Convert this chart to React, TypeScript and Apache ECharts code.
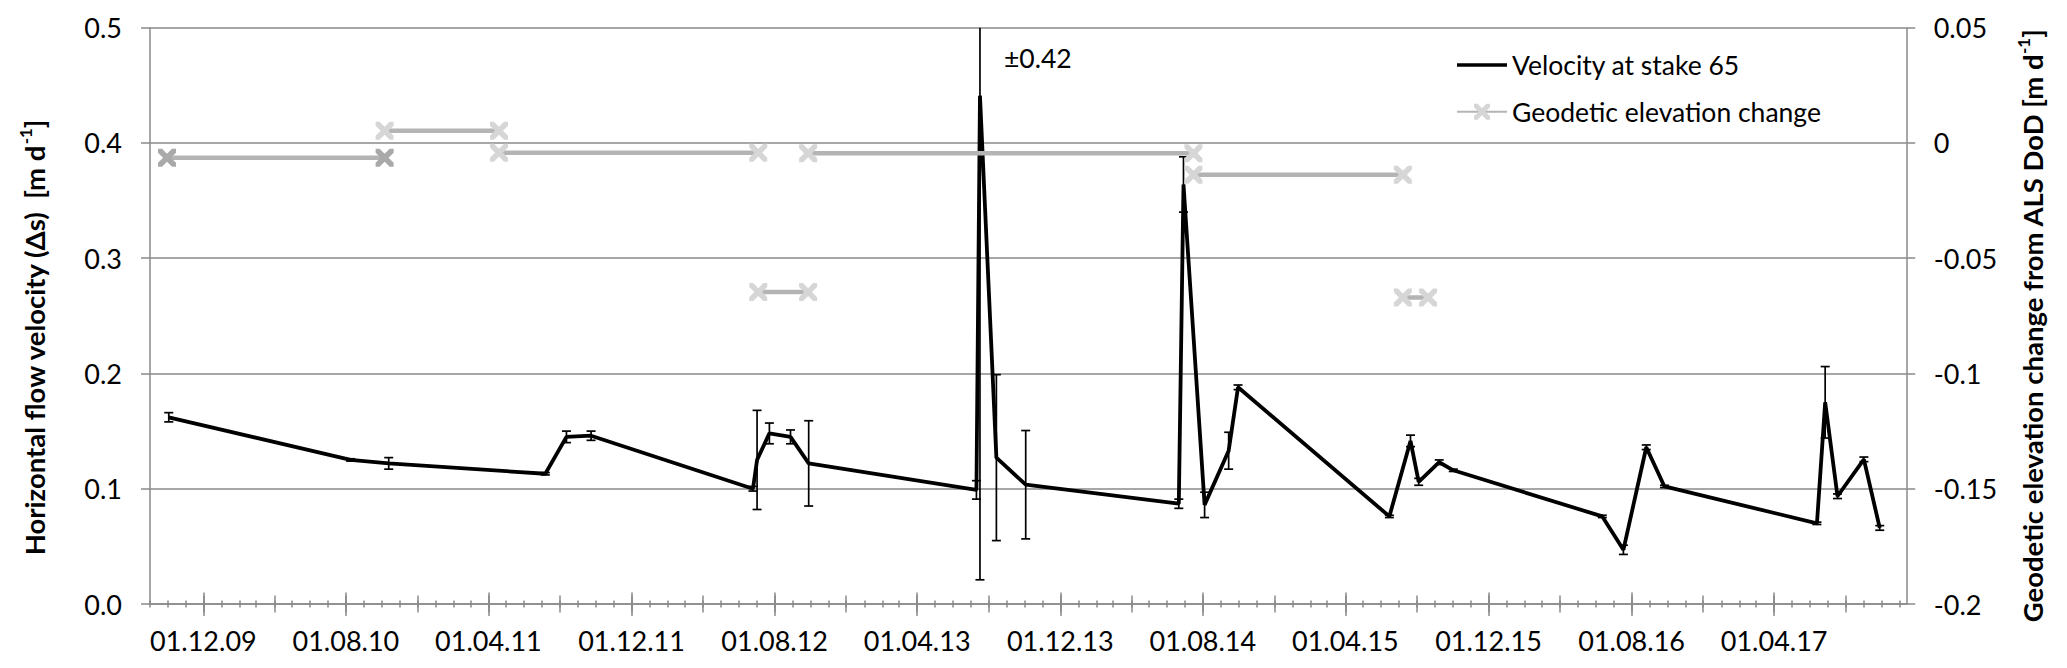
import React, { useEffect, useRef } from 'react';
import * as echarts from 'echarts';

// ---------- data ----------
const velDates = [
  '2009-10-03', '2010-08-09', '2010-10-13', '2011-07-07', '2011-08-12', '2011-09-23',
  '2012-06-25', '2012-07-02', '2012-07-23', '2012-08-28', '2012-09-28',
  '2013-07-11', '2013-07-17', '2013-08-14', '2013-10-03',
  '2014-06-21', '2014-06-29', '2014-08-04', '2014-09-14', '2014-09-30',
  '2015-06-15', '2015-07-21', '2015-08-04', '2015-09-08', '2015-10-02',
  '2016-06-12', '2016-07-18', '2016-08-26', '2016-09-26',
  '2017-06-13', '2017-06-27', '2017-07-18', '2017-09-01', '2017-09-28',
];
const velValues = [
  0.162, 0.125, 0.122, 0.113, 0.145, 0.146,
  0.100, 0.125, 0.148, 0.145, 0.122,
  0.099, 0.441, 0.127, 0.1035,
  0.087, 0.364, 0.086, 0.133, 0.188,
  0.076, 0.1415, 0.106, 0.123, 0.116,
  0.076, 0.047, 0.136, 0.102,
  0.070, 0.175, 0.0935, 0.1255, 0.066,
];
const velErrors = [
  0.004, 0.001, 0.005, 0.001, 0.005, 0.004,
  0.002, 0.043, 0.009, 0.006, 0.037,
  0.008, 0.42, 0.072, 0.047,
  0.004, 0.024, 0.011, 0.016, 0.002,
  0.001, 0.005, 0.003, 0.002, 0.001,
  0.001, 0.004, 0.002, 0.001,
  0.001, 0.031, 0.002, 0.002, 0.002,
];

const demStart = ['2009-09-30', '2010-10-06', '2011-04-19', '2012-07-04', '2012-09-27', '2014-07-16', '2015-07-08'];
const demEnd = ['2010-10-06', '2011-04-19', '2012-07-04', '2012-09-27', '2014-07-16', '2015-07-08', '2015-08-20'];
const demValues = [-0.0064, 0.0053, -0.0042, -0.0647, -0.0045, -0.0138, -0.067];

const majorTickDates = [
  '2009-12-01', '2010-08-01', '2011-04-01', '2011-12-01', '2012-08-01', '2013-04-01',
  '2013-12-01', '2014-08-01', '2015-04-01', '2015-12-01', '2016-08-01', '2017-04-01',
];
const mediumTickDates = [
  '2010-04-01', '2010-12-01', '2011-08-01', '2012-04-01', '2012-12-01', '2013-08-01',
  '2014-04-01', '2014-12-01', '2015-08-01', '2016-04-01', '2016-12-01', '2017-08-01',
];
const X_MIN_DATE = '2009-09-01';
const X_MAX_DATE = '2017-11-13';
const Y_LEFT_MIN = 0;
const Y_LEFT_MAX = 0.5;
const Y_RIGHT_MIN = -0.2;
const Y_RIGHT_MAX = 0.05;

// ---------- helpers ----------
const t = (s: string) => {
  const [y, m, d] = s.split('-').map(Number);
  return new Date(y, m - 1, d).getTime();
};
const pad = (n: number) => (n < 10 ? '0' + n : '' + n);

const X_MIN = t(X_MIN_DATE);
const X_MAX = t(X_MAX_DATE);
const monthTicks: number[] = [];
{
  let y = 2009, m = 8;
  while (new Date(y, m, 1).getTime() <= X_MAX) {
    monthTicks.push(new Date(y, m, 1).getTime());
    m++;
    if (m > 11) { m = 0; y++; }
  }
}
const majors = majorTickDates.map(t);
const mediums = mediumTickDates.map(t).concat(majors);

const FONT = 'Lato';
const AXIS_COLOR = '#8a8a8a';
const LABEL_SIZE = 27;

const velData = velDates.map((d, i) => [t(d), velValues[i]]);
const errData = velDates.map((d, i) => [t(d), velValues[i] - velErrors[i], velValues[i] + velErrors[i]]);

const demData: any[] = [];
demStart.forEach((s, i) => {
  const markerColor = i === 0 ? '#a9a9a9' : '#d6d6d6';
  if (i > 0) demData.push([t(s), '-']);
  demData.push({ value: [t(s), demValues[i]], itemStyle: { color: markerColor } });
  demData.push({ value: [t(demEnd[i]), demValues[i]], itemStyle: { color: markerColor } });
});

const X_PATH = 'path://M0,0 L2.2,0 L5,2.8 L7.8,0 L10,0 L10,2.2 L7.2,5 L10,7.8 L10,10 L7.8,10 L5,7.2 L2.2,10 L0,10 L0,7.8 L2.8,5 L0,2.2 Z';
const LINE_ICON = 'path://M0,0 L50,0 L50,3.6 L0,3.6 Z';

const tickLine = { color: AXIS_COLOR, width: 1.5 };
const xExtra = (ticks: number[], length: number, inside: boolean) => ({
  type: 'value',
  min: X_MIN,
  max: X_MAX,
  position: 'bottom',
  gridIndex: 0,
  axisLine: { show: false, onZero: false },
  axisTick: { show: true, customValues: ticks, length, inside, lineStyle: tickLine },
  axisLabel: { show: false },
  splitLine: { show: false },
  axisPointer: { show: false },
});

const richTitle = {
  b: { fontSize: 27.5, fontWeight: 'bold', fontFamily: FONT, fill: '#000', lineHeight: 34 },
  s: { fontSize: 17, fontWeight: 'bold', fontFamily: FONT, fill: '#000', lineHeight: 18, verticalAlign: 'top' },
};

const option: any = {
  animation: false,
  backgroundColor: '#ffffff',
  grid: { left: 150, right: 160.3, top: 27.7, bottom: 64, containLabel: false, outerBoundsMode: 'none' },
  legend: {
    data: [
      { name: 'Velocity at stake 65', icon: LINE_ICON },
      { name: 'Geodetic elevation change' },
    ],
    orient: 'vertical',
    left: 1456,
    top: 51,
    itemWidth: 50,
    itemHeight: 20,
    itemGap: 18.7,
    padding: 0,
    textStyle: { fontSize: 26.5, fontFamily: FONT, color: '#000', lineHeight: 28 },
  },
  xAxis: [
    {
      type: 'value',
      min: X_MIN,
      max: X_MAX,
      position: 'bottom',
      gridIndex: 0,
      axisLine: { show: true, onZero: false, lineStyle: { color: AXIS_COLOR, width: 1.5 } },
      axisTick: { show: true, customValues: monthTicks, length: 3.5, inside: false, lineStyle: tickLine },
      axisLabel: {
        show: true,
        customValues: majors,
        margin: 23,
        fontSize: LABEL_SIZE,
        fontFamily: FONT,
        color: '#000',
        formatter: (v: number) => {
          const d = new Date(v);
          return pad(d.getDate()) + '.' + pad(d.getMonth() + 1) + '.' + pad(d.getFullYear() % 100);
        },
      },
      splitLine: { show: false },
    },
    xExtra(monthTicks, 3.5, true),
    xExtra(mediums, 8.5, false),
    xExtra(mediums, 8.5, true),
    xExtra(majors, 12, false),
    xExtra(majors, 11.5, true),
  ],
  yAxis: [
    {
      type: 'value',
      min: Y_LEFT_MIN,
      max: Y_LEFT_MAX,
      interval: 0.1,
      position: 'left',
      axisLine: { show: true, onZero: false, lineStyle: { color: AXIS_COLOR, width: 1.5 } },
      axisTick: { show: true, length: 9, inside: false, lineStyle: tickLine },
      axisLabel: {
        margin: 28,
        fontSize: LABEL_SIZE,
        fontFamily: FONT,
        color: '#000',
        formatter: (v: number) => v.toFixed(1),
      },
      splitLine: { show: true, lineStyle: { color: AXIS_COLOR, width: 1.5 } },
    },
    {
      type: 'value',
      min: Y_RIGHT_MIN,
      max: Y_RIGHT_MAX,
      interval: 0.05,
      position: 'right',
      axisLine: { show: true, onZero: false, lineStyle: { color: AXIS_COLOR, width: 1.5 } },
      axisTick: { show: true, length: 8.5, inside: false, lineStyle: tickLine },
      axisLabel: {
        margin: 27,
        fontSize: LABEL_SIZE,
        fontFamily: FONT,
        color: '#000',
        formatter: (v: number) => String(Math.round(v * 100) / 100),
      },
      splitLine: { show: false },
    },
  ],
  series: [
    {
      name: 'Velocity at stake 65',
      type: 'line',
      xAxisIndex: 0,
      yAxisIndex: 0,
      data: velData,
      symbol: 'none',
      showSymbol: false,
      lineStyle: { color: '#000', width: 3.8 },
      itemStyle: { color: '#000' },
      z: 3,
    },
    {
      name: 'errors',
      type: 'custom',
      xAxisIndex: 0,
      yAxisIndex: 0,
      data: errData,
      encode: { x: 0, y: [1, 2] },
      z: 3,
      renderItem: (params: any, api: any) => {
        const x = api.value(0);
        const lo = api.value(1);
        const hi = api.value(2);
        const over = hi > Y_LEFT_MAX;
        const pLo = api.coord([x, lo]);
        const pHi = api.coord([x, Math.min(hi, Y_LEFT_MAX)]);
        const cap = 4.5;
        const style = { stroke: '#000', lineWidth: 1.7, fill: null };
        const children: any[] = [
          { type: 'line', shape: { x1: pLo[0], y1: pLo[1], x2: pHi[0], y2: pHi[1] }, style },
          { type: 'line', shape: { x1: pLo[0] - cap, y1: pLo[1], x2: pLo[0] + cap, y2: pLo[1] }, style },
        ];
        if (!over) {
          children.push({ type: 'line', shape: { x1: pHi[0] - cap, y1: pHi[1], x2: pHi[0] + cap, y2: pHi[1] }, style });
        }
        return { type: 'group', children };
      },
    },
    {
      name: 'Geodetic elevation change',
      type: 'line',
      xAxisIndex: 0,
      yAxisIndex: 1,
      data: demData,
      connectNulls: false,
      symbol: X_PATH,
      symbolSize: 18,
      showSymbol: true,
      itemStyle: { color: '#d6d6d6' },
      lineStyle: { color: '#b4b4b4', width: 4.5 },
      z: 4,
    },
  ],
  graphic: [
    {
      type: 'text',
      x: 1004,
      y: 58,
      style: { text: '±0.42', fontSize: 26.5, fontFamily: FONT, fill: '#000', align: 'left', verticalAlign: 'middle' },
    },
    {
      type: 'text',
      x: 34,
      y: 338,
      rotation: Math.PI / 2,
      style: {
        text: '{b|Horizontal flow velocity (Δs)  [m d}{s|-1}{b|]}',
        align: 'center',
        verticalAlign: 'middle',
        fill: '#000',
        rich: richTitle,
      },
    },
    {
      type: 'text',
      x: 2032,
      y: 326,
      rotation: Math.PI / 2,
      style: {
        text: '{b|Geodetic elevation change from ALS DoD [m d}{s|-1}{b|]}',
        align: 'center',
        verticalAlign: 'middle',
        fill: '#000',
        rich: richTitle,
      },
    },
  ],
};

export default function App() {
  const ref = useRef<HTMLDivElement>(null);
  useEffect(() => {
    if (!ref.current) return;
    const chart = echarts.init(ref.current, undefined, { renderer: 'svg' });
    chart.setOption(option);
    return () => chart.dispose();
  }, []);
  return (
    <div
      ref={ref}
      style={{ position: 'absolute', left: 0, top: 0, width: 2067, height: 668, background: '#fff' }}
    />
  );
}
